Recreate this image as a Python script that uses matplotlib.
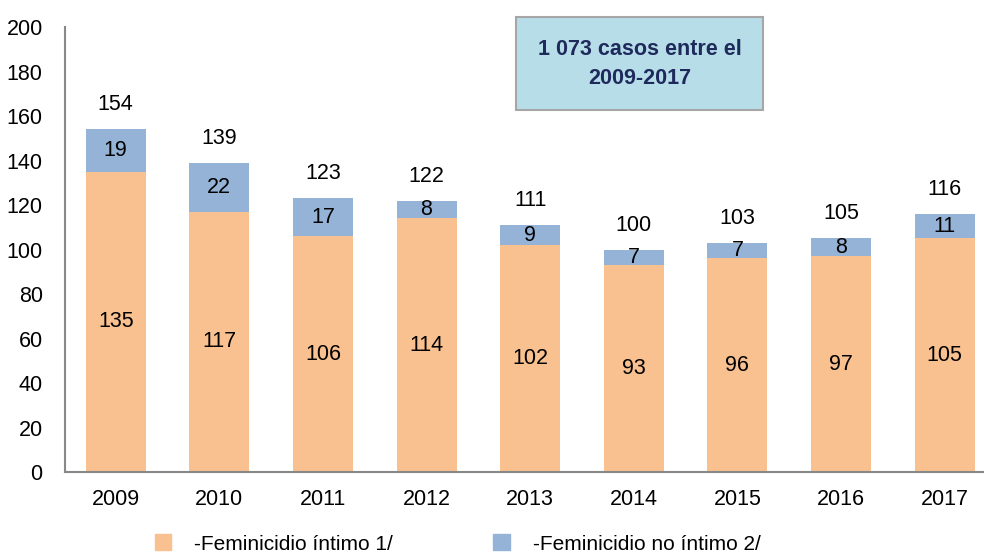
import numpy as np
import matplotlib.pyplot as plt
from matplotlib.patches import Patch
from matplotlib import font_manager

years = ['2009', '2010', '2011', '2012', '2013', '2014', '2015', '2016', '2017']
intimo = [135, 117, 106, 114, 102, 93, 96, 97, 105]
no_intimo = [19, 22, 17, 8, 9, 7, 7, 8, 11]
totals = [154, 139, 123, 122, 111, 100, 103, 105, 116]

names = {f.name for f in font_manager.fontManager.ttflist}
fam = ['Liberation Sans Narrow'] if 'Liberation Sans Narrow' in names else ['Liberation Sans']
plt.rcParams['font.family'] = fam + ['DejaVu Sans']

c_int = '#F9C090'
c_no = '#95B3D7'

fig = plt.figure(figsize=(9.84, 5.54), dpi=100)
ax = fig.add_axes([0.066, 0.148, 0.934, 0.803])

x = np.arange(len(years))
w = 0.58
ax.bar(x, intimo, w, color=c_int)
ax.bar(x, no_intimo, w, bottom=intimo, color=c_no)

for i in range(len(years)):
    ax.text(x[i], intimo[i] / 2, str(intimo[i]), ha='center', va='center', fontsize=15.5)
    ax.text(x[i], intimo[i] + no_intimo[i] / 2, str(no_intimo[i]), ha='center', va='center', fontsize=15.5)
    ax.text(x[i], totals[i] + 11, str(totals[i]), ha='center', va='center', fontsize=15.5)

ax.set_ylim(0, 200)
ax.set_yticks(range(0, 201, 20))
ax.set_xlim(-0.49, 8.38)
ax.set_xticks(x)
ax.set_xticklabels(years)
ax.tick_params(axis='both', length=0, labelsize=15.5)
ax.tick_params(axis='x', pad=12)
ax.tick_params(axis='y', pad=16)
for s in ['top', 'right']:
    ax.spines[s].set_visible(False)
for s in ['left', 'bottom']:
    ax.spines[s].set_color('#888888')
    ax.spines[s].set_linewidth(1.5)

# caja de texto
fig.text(0.650, 0.885, '1 073 casos entre el\n2009-2017', ha='center', va='center',
         fontsize=15.5, fontweight='bold', color='#1F2A5C', linespacing=1.5,
         bbox=dict(boxstyle='square,pad=1.0', facecolor='#B7DDE8', edgecolor='#A6A6A6', linewidth=1.5))

handles = [Patch(color=c_int), Patch(color=c_no)]
fig.legend(handles, ['-Feminicidio íntimo 1/', '-Feminicidio no íntimo 2/'],
           loc='center', bbox_to_anchor=(0.465, 0.018), ncol=2, frameon=False,
           fontsize=15, handlelength=0.8, handleheight=0.8, handletextpad=1.1,
           columnspacing=4.8)

fig.savefig('out.png', dpi=100)
